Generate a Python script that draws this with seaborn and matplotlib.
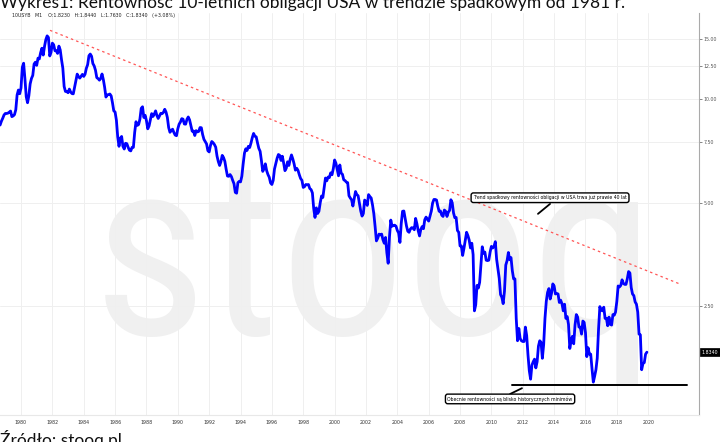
import matplotlib
matplotlib.use("Agg")
import matplotlib.pyplot as plt
from matplotlib import font_manager
from matplotlib.ticker import NullLocator, FixedLocator, FixedFormatter
import matplotlib.transforms as mtransforms
import numpy as np
import pandas as pd
import seaborn as sns

# ---------------- texts ----------------
title = "Wykres1: Rentowność 10-letnich obligacji USA w trendzie spadkowym od 1981 r."
source = "Źródło: stooq.pl"
header = "10USYB   M1    O:1.8230   H:1.8440   L:1.7630   C:1.8340   (+3.08%)"
note_trend = "Trend spadkowy rentowności obligacji w USA trwa już prawie 40 lat"
note_low = "Obecnie rentowności są blisko historycznych minimów"
watermark = "stooq"

# ---------------- data (monthly 10Y US yields, %) ----------------
start_year, start_month = 1978, 9
yields_1978_1989 = [
    8.42, 8.64, 8.81, 9.01,
    9.10, 9.10, 9.12, 9.18, 9.25, 8.91, 8.95, 9.03, 9.33, 10.30, 10.65, 10.39,
    10.80, 12.41, 12.75, 11.47, 10.18, 9.78, 10.25, 11.10, 11.51, 11.75, 12.68, 12.84,
    12.57, 13.19, 13.12, 13.68, 14.10, 13.47, 14.28, 14.94, 15.32, 15.15, 13.39, 13.72,
    14.59, 14.43, 13.86, 13.87, 13.62, 14.30, 13.95, 13.06, 12.34, 10.91, 10.55, 10.54,
    10.46, 10.72, 10.51, 10.40, 10.38, 10.85, 11.38, 11.85, 11.65, 11.54, 11.69, 11.83,
    11.67, 11.84, 12.32, 12.63, 13.41, 13.56, 13.36, 12.72, 12.52, 12.16, 11.57, 11.50,
    11.38, 11.51, 11.86, 11.43, 10.85, 10.16, 10.31, 10.33, 10.37, 10.24, 9.78, 9.26,
    9.19, 8.70, 7.78, 7.30, 7.71, 7.80, 7.30, 7.17, 7.45, 7.43, 7.25, 7.11,
    7.08, 7.25, 7.25, 8.02, 8.61, 8.40, 8.45, 8.76, 9.42, 9.52, 8.86, 8.99,
    8.67, 8.21, 8.37, 8.72, 9.09, 8.92, 9.06, 9.26, 8.98, 8.80, 8.96, 9.11,
    9.09, 9.17, 9.36, 9.18, 8.86, 8.28, 8.02, 8.11, 8.19, 8.01, 7.87, 7.84,
]
yields_1990_1999 = [
    8.21, 8.47, 8.59, 8.79, 8.76, 8.48, 8.47, 8.75, 8.89, 8.72, 8.39, 8.08,
    8.09, 7.85, 8.11, 8.04, 8.07, 8.28, 8.27, 7.90, 7.65, 7.53, 7.42, 7.09,
    7.03, 7.34, 7.54, 7.48, 7.39, 7.26, 6.84, 6.59, 6.42, 6.59, 6.87, 6.77,
    6.60, 6.26, 5.98, 5.97, 6.04, 5.96, 5.81, 5.68, 5.36, 5.33, 5.72, 5.77,
    5.75, 5.97, 6.48, 6.97, 7.18, 7.10, 7.30, 7.24, 7.46, 7.74, 7.96, 7.81,
    7.78, 7.47, 7.20, 7.06, 6.63, 6.17, 6.28, 6.49, 6.20, 6.04, 5.93, 5.71,
    5.65, 5.81, 6.27, 6.51, 6.74, 6.91, 6.87, 6.64, 6.83, 6.53, 6.20, 6.30,
    6.58, 6.42, 6.69, 6.89, 6.71, 6.49, 6.22, 6.30, 6.21, 6.03, 5.88, 5.81,
    5.54, 5.57, 5.65, 5.64, 5.65, 5.50, 5.46, 5.34, 4.81, 4.53, 4.83, 4.65,
    4.72, 5.00, 5.23, 5.18, 5.54, 5.90, 5.79, 5.94, 5.92, 6.11, 6.03, 6.28,
]
yields_2000_2009 = [
    6.66, 6.52, 6.26, 5.99, 6.44, 6.10, 6.05, 5.83, 5.80, 5.74, 5.72, 5.24,
    5.16, 5.10, 4.89, 5.14, 5.39, 5.28, 5.24, 4.97, 4.73, 4.57, 4.65, 5.09,
    5.04, 4.91, 5.28, 5.21, 5.16, 4.93, 4.65, 4.26, 3.87, 3.94, 4.05, 4.03,
    4.05, 3.90, 3.81, 3.96, 3.57, 3.33, 3.98, 4.45, 4.27, 4.29, 4.30, 4.27,
    4.15, 4.08, 3.83, 4.35, 4.72, 4.73, 4.50, 4.28, 4.13, 4.10, 4.19, 4.23,
    4.22, 4.17, 4.50, 4.34, 4.14, 4.00, 4.18, 4.26, 4.20, 4.46, 4.54, 4.47,
    4.42, 4.57, 4.72, 4.99, 5.11, 5.11, 5.09, 4.88, 4.72, 4.73, 4.60, 4.56,
    4.76, 4.72, 4.56, 4.69, 4.75, 5.10, 5.00, 4.67, 4.52, 4.53, 4.15, 4.10,
    3.74, 3.74, 3.51, 3.68, 3.88, 4.10, 4.01, 3.89, 3.69, 3.81, 3.53, 2.42,
    2.52, 2.87, 2.82, 2.93, 3.29, 3.72, 3.56, 3.59, 3.40, 3.39, 3.40, 3.59,
]
yields_2010_2019 = [
    3.73, 3.69, 3.73, 3.85, 3.42, 3.20, 3.01, 2.70, 2.65, 2.54, 2.76, 3.29,
    3.39, 3.58, 3.41, 3.46, 3.17, 3.00, 3.00, 2.30, 1.98, 2.15, 2.01, 1.98,
    1.97, 1.97, 2.17, 2.05, 1.80, 1.62, 1.53, 1.68, 1.72, 1.75, 1.65, 1.72,
    1.91, 1.98, 1.96, 1.76, 1.93, 2.30, 2.58, 2.74, 2.81, 2.62, 2.72, 2.90,
    2.86, 2.71, 2.72, 2.71, 2.56, 2.60, 2.54, 2.42, 2.53, 2.30, 2.33, 2.21,
    1.88, 1.98, 2.04, 1.94, 2.20, 2.36, 2.32, 2.17, 2.17, 2.07, 2.26, 2.24,
    2.09, 1.78, 1.89, 1.81, 1.81, 1.64, 1.50, 1.56, 1.63, 1.76, 2.14, 2.49,
    2.43, 2.42, 2.48, 2.30, 2.30, 2.19, 2.32, 2.21, 2.20, 2.36, 2.35, 2.40,
    2.58, 2.86, 2.84, 2.87, 2.98, 2.91, 2.89, 2.89, 3.00, 3.15, 3.12, 2.83,
    2.71, 2.68, 2.57, 2.53, 2.40, 2.07, 2.06, 1.63, 1.70, 1.71, 1.81, 1.834,
]
last_value = 1.834

x_ticks = list(range(1980, 2021, 2))
y_ticks = [2.5, 5.0, 7.5, 10.0, 12.5, 15.0]

# annotation geometry (data units)
trend_x = [1981.85, 2022.0]
trend_y = [15.9, 2.9]
support_x = [2011.3, 2022.5]
support_y = [1.47, 1.47]
note_trend_xy = (2013.74, 5.17)
pointer_trend_x = [2013.74, 2012.97]
pointer_trend_y = [4.96, 4.64]
note_low_xy = (2011.19, 1.34)
pointer_low_x = [2011.19, 2011.95]
pointer_low_y = [1.385, 1.44]

# ---------------- build frame ----------------
values = yields_1978_1989 + yields_1990_1999 + yields_2000_2009 + yields_2010_2019
t = start_year + (start_month - 1 + np.arange(len(values))) / 12.0
df = pd.DataFrame({"t": t, "y": values})

sns.set_theme(style="white")
plt.rcParams["font.family"] = ["DejaVu Sans"]

W, H = 720, 442
fig = plt.figure(figsize=(W / 100, H / 100), dpi=100)
ax_left, ax_right, ax_top, ax_bottom = 0, 699, 13, 415
ax = fig.add_axes([ax_left / W, 1 - ax_bottom / H, (ax_right - ax_left) / W, (ax_bottom - ax_top) / H])

# watermark
avail = {f.name for f in font_manager.fontManager.ttflist}
wm_family = "DejaVu Sans"
for cand in ["Roboto Condensed", "DejaVu Sans Condensed", "Liberation Sans Narrow", "Open Sans Condensed"]:
    if cand in avail:
        wm_family = cand
        break
ax.text(0.536, 0.2, watermark, transform=ax.transAxes, ha="center", va="baseline",
        fontsize=180, color="#f0f0f0", family=wm_family, zorder=0)

sns.lineplot(data=df, x="t", y="y", ax=ax, color="#0000ff", linewidth=2.0, zorder=3)

ax.set_yscale("log")
ax.set_xlim(1978.66, 2023.24)
ax.set_ylim(1.203, 17.86)

ax.yaxis.tick_right()
ax.yaxis.set_major_locator(FixedLocator(y_ticks))
ax.yaxis.set_major_formatter(FixedFormatter([f"{v:.2f}" for v in y_ticks]))
ax.yaxis.set_minor_locator(NullLocator())
ax.set_xticks(x_ticks)
ax.set_xticklabels([str(v) for v in x_ticks])
ax.set_xlabel("")
ax.set_ylabel("")
ax.tick_params(axis="both", labelsize=3.4, length=2, width=0.5, pad=1.5,
               colors="#333333")
ax.tick_params(axis="y", right=True, left=False, colors="#555555")

for s in ["left", "top"]:
    ax.spines[s].set_visible(False)
ax.spines["right"].set_color("#aaaaaa")
ax.spines["right"].set_linewidth(0.8)
ax.spines["bottom"].set_color("#e8e8e8")
ax.spines["bottom"].set_linewidth(0.8)

ax.grid(True, which="major", color="#efefef", linewidth=0.7, zorder=1)
ax.set_axisbelow(True)

# trend line
ax.plot(trend_x, trend_y, color="#ff5555", linewidth=0.9, linestyle=(0, (2, 2.5)), zorder=4)
# support line
ax.plot(support_x, support_y, color="black", linewidth=1.4, zorder=4)

# annotations
ax.plot(pointer_trend_x, pointer_trend_y, color="black", linewidth=1.3, zorder=5)
ax.text(*note_trend_xy, note_trend, ha="center", va="center", fontsize=3.3, color="black", zorder=6,
        bbox=dict(boxstyle="round,pad=0.45,rounding_size=0.5", fc="white", ec="black", lw=1.0))
ax.plot(pointer_low_x, pointer_low_y, color="black", linewidth=1.3, zorder=5)
ax.text(*note_low_xy, note_low, ha="center", va="center", fontsize=3.3, color="black", zorder=6,
        bbox=dict(boxstyle="round,pad=0.45,rounding_size=0.5", fc="white", ec="black", lw=1.0))

# last value tag
blend = mtransforms.blended_transform_factory(ax.transAxes, ax.transData)
ax.text(1.004, last_value, f"{last_value:.4f}", transform=blend, ha="left", va="center",
        fontsize=3.4, color="white", zorder=6, clip_on=False,
        bbox=dict(boxstyle="square,pad=0.3", fc="black", ec="black", lw=0.5))

# header
fig.text(12 / W, 1 - 16 / H, header, fontsize=3.4, color="#222222", va="center", ha="left")

# title and source (clipped at the edges like the reference)
fig.text(0.0, 1 - 8 / H, title, fontsize=12.5, family=["Lato", "DejaVu Sans"],
         color="#111111", va="baseline", ha="left")
fig.text(0.0, -4 / H, source, fontsize=12.5, family=["Lato", "DejaVu Sans"],
         color="#111111", va="baseline", ha="left")

fig.savefig("out.png", dpi=100)
